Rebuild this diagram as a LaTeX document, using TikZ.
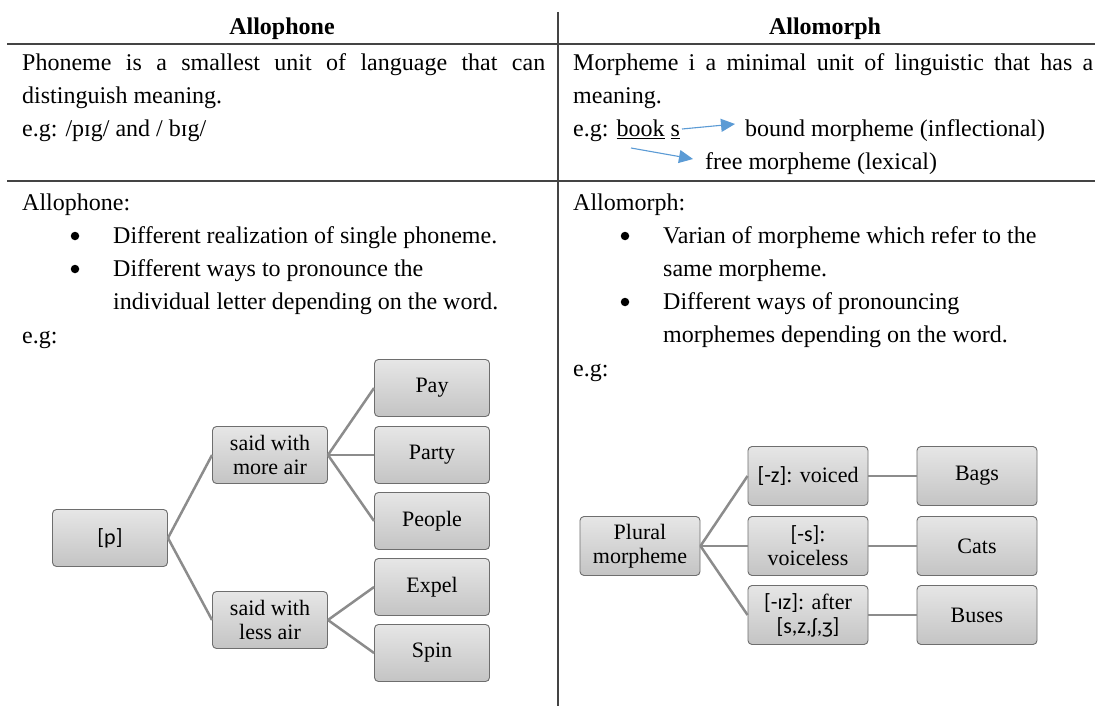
\documentclass[tikz,border=0pt]{standalone}
\usepackage{fontspec}
\setmainfont{Liberation Serif}
\newfontfamily\ipa{Carlito}
\usetikzlibrary{arrows.meta}
\definecolor{rule}{HTML}{444444}
\definecolor{boxline}{HTML}{6E6E6E}
\definecolor{boxtop}{HTML}{E6E6E6}
\definecolor{boxbot}{HTML}{C4C4C4}
\definecolor{connc}{HTML}{8C8C8C}
\definecolor{arrowblue}{HTML}{5B9BD5}
\tikzset{
  txt/.style={anchor=base west, inner sep=0pt, font=\fontsize{24}{33}\selectfont},
  hd/.style={anchor=base, inner sep=0pt, font=\fontsize{24}{33}\selectfont\bfseries},
  bul/.style={circle, fill=black, inner sep=0pt, minimum size=8.5pt},
  box/.style={draw=boxline, line width=0.9pt, rounded corners=4pt, top color=boxtop, bottom color=boxbot,
    minimum width=115pt, minimum height=57pt, align=center, inner sep=2pt, font=\fontsize{22}{24}\selectfont},
  wbox/.style={box, minimum width=120pt, minimum height=59pt},
  conn/.style={draw=connc, line width=2.5pt},
  barrow/.style={draw=arrowblue, line width=1.1pt, -{Triangle[length=14pt,width=13pt]}},
  tline/.style={draw=rule, line width=1.3pt}
}
\begin{document}
\begin{tikzpicture}[x=1pt,y=-1pt]
\useasboundingbox (0,0) rectangle (1095,706);
\fill[white] (0,0) rectangle (1095,706);
% table rules
\coordinate (vt) at (558,12); \coordinate (vb) at (558,706);
\coordinate (h1l) at (7,44); \coordinate (h1r) at (1095,44);
\coordinate (h2l) at (7,181); \coordinate (h2r) at (1095,181);
\draw[tline] (vt) -- (vb);
\draw[tline] (h1l) -- (h1r);
\draw[tline] (h2l) -- (h2r);
% headers
\node[hd] (hL) at (282,35) {Allophone};
\node[hd] (hR) at (825,35) {Allomorph};
% row 2 left
\node[txt] (l1) at (22,71) {\makebox[523pt][s]{Phoneme is a smallest unit of language that can}};
\node[txt] (l2) at (22,104) {distinguish meaning.};
\node[txt] (l3) at (22,137) {e.g: /pɪg/ and / bɪg/};
% row 2 right
\node[txt] (r1) at (573,71) {\makebox[520pt][s]{Morpheme i a minimal unit of linguistic that has a}};
\node[txt] (r2) at (573,104) {meaning.};
\node[txt] (r3) at (573,137) {e.g: \underline{book} \underline{s}};
\node[txt] (r3b) at (745,137) {bound morpheme (inflectional)};
\node[txt] (r4) at (705,169) {free morpheme (lexical)};
\coordinate (a1s) at (682,129); \coordinate (a1e) at (735,124);
\coordinate (a2s) at (631,148); \coordinate (a2e) at (693,159);
\draw[barrow] (a1s) -- (a1e);
\draw[barrow] (a2s) -- (a2e);
% row 3 left
\node[txt] (la) at (22,210) {Allophone:};
\node[bul] (lb1) at (75,236) {};
\node[txt] (lt1) at (113,243) {Different realization of single phoneme.};
\node[bul] (lb2) at (75,269) {};
\node[txt] (lt2) at (113,276) {Different ways to pronounce the};
\node[txt] (lt3) at (113,309) {individual letter depending on the word.};
\node[txt] (leg) at (22,343) {e.g:};
% row 3 right
\node[txt] (ra) at (573,210) {Allomorph:};
\node[bul] (rb1) at (625,236) {};
\node[txt] (rt1) at (663,243) {Varian of morpheme which refer to the};
\node[txt] (rt2) at (663,276) {same morpheme.};
\node[bul] (rb2) at (625,302) {};
\node[txt] (rt3) at (663,309) {Different ways of pronouncing};
\node[txt] (rt4) at (663,342) {morphemes depending on the word.};
\node[txt] (reg) at (573,376) {e.g:};
% left tree
\node[box] (p) at (110,538) {{\ipa [p]}};
\node[box] (more) at (270,455) {said with\\more air};
\node[box] (less) at (270,620) {said with\\less air};
\node[box] (pay) at (432,388) {Pay};
\node[box] (party) at (432,455) {Party};
\node[box] (people) at (432,521) {People};
\node[box] (expel) at (432,587) {Expel};
\node[box] (spin) at (432,653) {Spin};
\draw[conn] (p.east) -- (more.west);
\draw[conn] (p.east) -- (less.west);
\draw[conn] (more.east) -- (pay.west);
\draw[conn] (more.east) -- (party.west);
\draw[conn] (more.east) -- (people.west);
\draw[conn] (less.east) -- (expel.west);
\draw[conn] (less.east) -- (spin.west);
% right tree
\node[wbox] (plural) at (640,546) {Plural\\morpheme};
\node[wbox] (vz) at (808,476) {{\ipa [-z]}: voiced};
\node[wbox] (vs) at (808,546) {{\ipa [-s]}:\\voiceless};
\node[wbox] (viz) at (808,615) {{\ipa [-ɪz]}: after\\{\ipa [s,z,ʃ,ʒ]}};
\node[wbox] (bags) at (977,476) {Bags};
\node[wbox] (cats) at (977,546) {Cats};
\node[wbox] (buses) at (977,615) {Buses};
\draw[conn] (plural.east) -- (vz.west);
\draw[conn] (plural.east) -- (vs.west);
\draw[conn] (plural.east) -- (viz.west);
\draw[conn] (vz) -- (bags);
\draw[conn] (vs) -- (cats);
\draw[conn] (viz) -- (buses);
\end{tikzpicture}
\end{document}
